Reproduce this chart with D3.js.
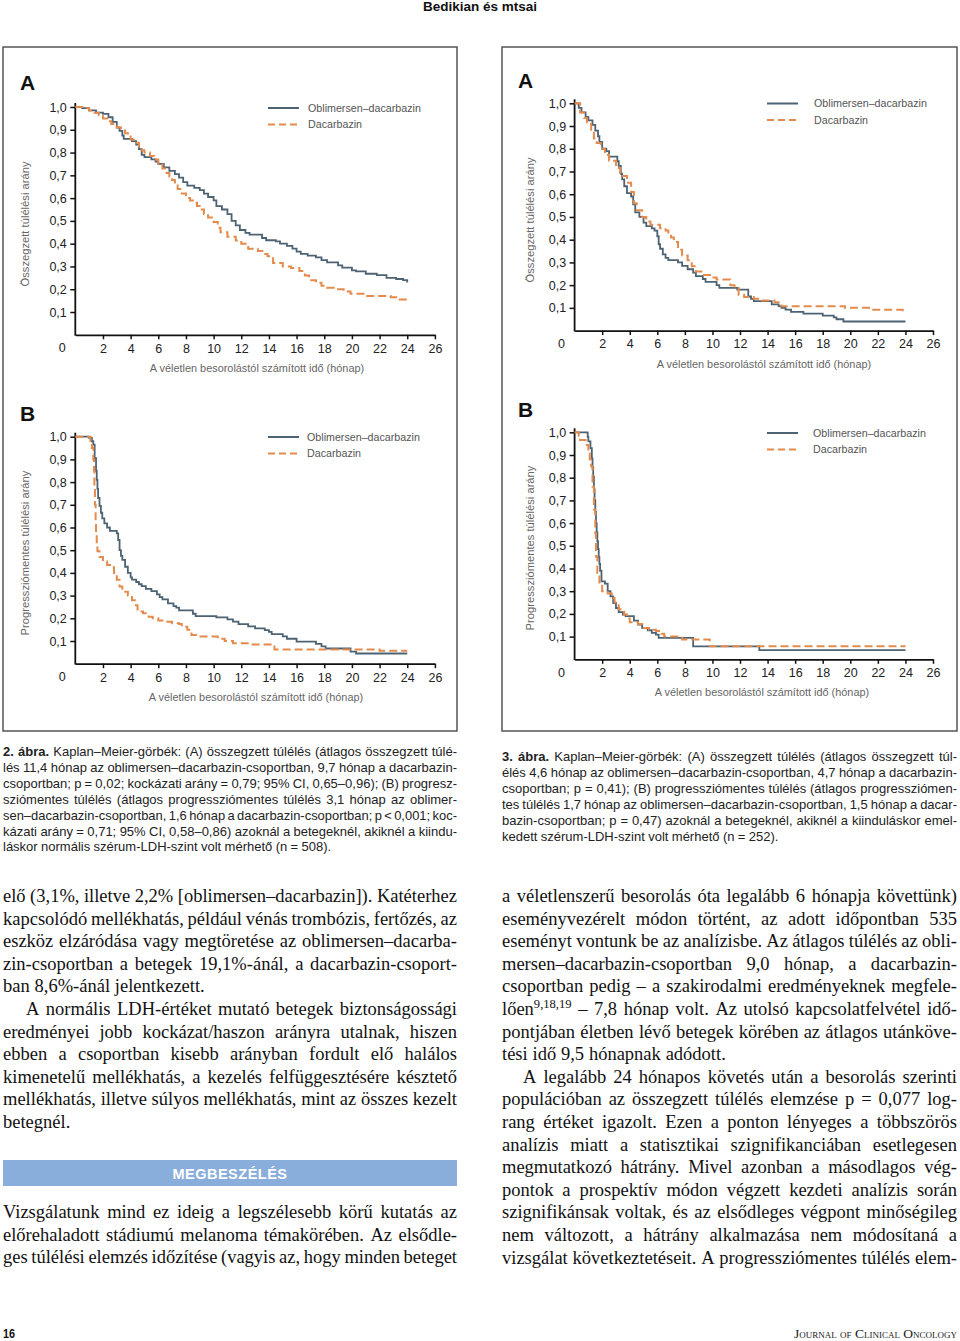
<!DOCTYPE html>
<html>
<head>
<meta charset="utf-8">
<title>Kaplan–Meier-görbék</title>
<script src="https://cdn.jsdelivr.net/npm/d3@7"></script>
<style>
  body { margin: 0; background: #fff; }
  svg { display: block; }
</style>
</head>
<body>
<svg id="page" width="960" height="1341"></svg>
<script>
// ---- data ----
const xTicks = [2, 4, 6, 8, 10, 12, 14, 16, 18, 20, 22, 24, 26];
const yTicks = [0.1, 0.2, 0.3, 0.4, 0.5, 0.6, 0.7, 0.8, 0.9, 1.0];
const seriesNames = ['Oblimersen–dacarbazin', 'Dacarbazin'];
const xTitle = 'A véletlen besorolástól számított idő (hónap)';
const yTitleOS = 'Összegzett túlélési arány';
const yTitlePFS = 'Progressziómentes túlélési arány';

// [month, survival] – figure 2 (normal LDH), panel A overall survival
const fig2A_obl = [[0,1],[0.5,0.995],[1.0,0.985],[1.5,0.975],[2.0,0.97],[2.4,0.955],[2.7,0.935],[3.0,0.91],[3.2,0.895],[3.4,0.875],[3.5,0.86],[4.1,0.85],[4.4,0.835],[4.6,0.815],[4.8,0.79],[5.0,0.78],[5.5,0.77],[5.8,0.76],[6.0,0.75],[6.4,0.735],[6.8,0.72],[7.2,0.705],[7.5,0.69],[7.8,0.67],[8.1,0.655],[8.6,0.645],[9.0,0.635],[9.3,0.62],[9.6,0.605],[10.0,0.59],[10.2,0.565],[10.6,0.55],[11.0,0.53],[11.3,0.50],[11.6,0.48],[11.9,0.46],[12.3,0.447],[12.6,0.44],[13.5,0.425],[13.8,0.415],[14.5,0.41],[14.8,0.40],[15.3,0.39],[15.7,0.378],[16.0,0.365],[16.3,0.355],[16.8,0.348],[17.4,0.34],[17.8,0.328],[18.2,0.318],[19.0,0.305],[19.3,0.295],[20.0,0.283],[20.3,0.278],[21.0,0.268],[21.8,0.262],[22.5,0.25],[23.2,0.245],[23.7,0.24],[24.0,0.23]];
const fig2A_dac = [[0,1],[0.5,0.995],[1.0,0.985],[1.4,0.975],[1.7,0.965],[2.0,0.95],[2.3,0.937],[2.6,0.925],[3.0,0.91],[3.3,0.897],[3.6,0.885],[3.8,0.87],[4.0,0.857],[4.3,0.843],[4.6,0.825],[4.8,0.81],[5.0,0.80],[5.4,0.785],[5.7,0.77],[6.0,0.75],[6.3,0.73],[6.6,0.71],[6.8,0.695],[7.0,0.68],[7.2,0.655],[7.4,0.64],[7.7,0.62],[8.0,0.60],[8.3,0.59],[8.6,0.58],[8.8,0.565],[9.0,0.55],[9.3,0.53],[9.6,0.515],[10.0,0.495],[10.3,0.47],[10.5,0.45],[11.0,0.43],[11.6,0.414],[12.0,0.40],[12.5,0.378],[13.2,0.368],[13.6,0.355],[13.9,0.345],[14.3,0.315],[15.0,0.30],[15.6,0.293],[16.2,0.28],[16.6,0.26],[16.9,0.24],[17.4,0.228],[17.8,0.215],[18.2,0.207],[19.0,0.20],[19.4,0.19],[19.9,0.18],[21.0,0.17],[22.8,0.165],[23.2,0.155],[24.0,0.155]];
// figure 2, panel B progression-free survival
const fig2B_obl = [[0,1],[1.0,0.995],[1.2,0.98],[1.3,0.965],[1.4,0.905],[1.5,0.85],[1.55,0.81],[1.6,0.77],[1.65,0.73],[1.75,0.695],[1.85,0.665],[1.95,0.64],[2.1,0.618],[2.3,0.60],[2.5,0.585],[3.0,0.574],[3.1,0.545],[3.2,0.50],[3.3,0.475],[3.4,0.457],[3.6,0.427],[3.8,0.40],[4.0,0.38],[4.1,0.37],[4.4,0.36],[4.6,0.35],[4.8,0.342],[5.1,0.33],[5.5,0.32],[5.9,0.305],[6.1,0.293],[6.3,0.283],[6.7,0.266],[7.1,0.254],[7.3,0.247],[7.5,0.235],[8.5,0.22],[8.7,0.21],[10.2,0.204],[11.0,0.195],[11.4,0.185],[11.8,0.174],[12.5,0.164],[13.0,0.156],[13.7,0.148],[14.0,0.14],[14.2,0.13],[15.0,0.12],[15.3,0.11],[16.0,0.097],[17.4,0.087],[17.8,0.076],[18.1,0.067],[19.9,0.053],[20.3,0.045],[24.0,0.045]];
const fig2B_dac = [[0,1],[1.1,0.98],[1.2,0.95],[1.3,0.90],[1.35,0.85],[1.38,0.78],[1.42,0.70],[1.47,0.63],[1.5,0.58],[1.55,0.53],[1.6,0.495],[1.75,0.47],[2.0,0.45],[2.3,0.435],[2.6,0.425],[2.8,0.40],[3.0,0.37],[3.2,0.34],[3.4,0.317],[3.8,0.30],[4.1,0.28],[4.3,0.258],[4.5,0.23],[4.9,0.222],[5.3,0.207],[5.6,0.20],[6.0,0.19],[6.4,0.185],[7.0,0.178],[7.5,0.175],[7.7,0.163],[8.1,0.15],[8.4,0.126],[8.8,0.12],[10.3,0.11],[10.8,0.10],[11.4,0.09],[12.6,0.085],[14.4,0.063],[22.0,0.057],[24.0,0.057]];
// figure 3 (elevated LDH), panel A
const fig3A_obl = [[0,1],[0.3,0.98],[0.5,0.96],[0.8,0.94],[1.0,0.925],[1.3,0.905],[1.5,0.88],[1.7,0.855],[1.8,0.83],[2.0,0.80],[2.3,0.79],[2.5,0.765],[3.1,0.745],[3.2,0.725],[3.35,0.69],[3.45,0.665],[3.6,0.635],[3.8,0.605],[4.1,0.59],[4.25,0.555],[4.4,0.52],[4.7,0.50],[5.0,0.475],[5.2,0.46],[5.6,0.45],[5.8,0.44],[6.0,0.415],[6.1,0.38],[6.2,0.36],[6.4,0.335],[6.6,0.32],[6.8,0.31],[7.5,0.30],[7.8,0.285],[8.2,0.27],[8.6,0.255],[8.8,0.24],[9.3,0.227],[9.5,0.214],[10.3,0.20],[10.5,0.188],[11.8,0.18],[12.6,0.15],[12.8,0.14],[13.0,0.13],[14.3,0.115],[14.8,0.108],[15.0,0.10],[15.3,0.092],[15.7,0.082],[16.6,0.075],[18.0,0.066],[18.8,0.058],[19.0,0.05],[19.5,0.04],[24.0,0.04]];
const fig3A_dac = [[0,1],[0.4,0.96],[0.7,0.935],[0.9,0.915],[1.2,0.87],[1.4,0.845],[1.6,0.825],[1.9,0.80],[2.2,0.773],[2.5,0.747],[3.0,0.715],[3.3,0.68],[3.8,0.65],[4.1,0.61],[4.3,0.56],[4.5,0.53],[4.9,0.50],[5.2,0.48],[5.5,0.466],[6.2,0.45],[6.6,0.44],[6.8,0.425],[7.0,0.41],[7.2,0.39],[7.5,0.356],[7.8,0.33],[8.2,0.31],[8.5,0.283],[8.8,0.26],[9.3,0.245],[10.0,0.234],[10.3,0.225],[11.3,0.20],[11.6,0.187],[11.9,0.158],[12.3,0.148],[13.0,0.14],[13.6,0.132],[14.5,0.125],[14.8,0.12],[15.0,0.107],[19.6,0.10],[21.5,0.092],[23.8,0.085],[24.0,0.085]];
// figure 3, panel B
const fig3B_obl = [[0,1],[0.95,0.98],[1.0,0.96],[1.15,0.93],[1.25,0.885],[1.3,0.845],[1.35,0.805],[1.4,0.75],[1.45,0.70],[1.5,0.65],[1.55,0.60],[1.6,0.56],[1.65,0.52],[1.7,0.485],[1.75,0.45],[1.8,0.42],[1.85,0.39],[1.95,0.343],[2.2,0.333],[2.4,0.30],[2.6,0.277],[2.8,0.248],[3.0,0.226],[3.2,0.208],[3.5,0.197],[3.7,0.19],[4.3,0.17],[4.6,0.153],[4.9,0.138],[5.3,0.128],[5.6,0.116],[5.9,0.109],[6.1,0.094],[8.6,0.057],[13.4,0.04],[24.0,0.04]];
const fig3B_dac = [[0,1],[0.3,0.985],[0.4,0.966],[0.8,0.944],[1.0,0.908],[1.1,0.88],[1.2,0.85],[1.3,0.76],[1.4,0.66],[1.5,0.555],[1.55,0.453],[1.65,0.38],[1.8,0.33],[2.0,0.30],[2.4,0.29],[2.7,0.27],[2.9,0.25],[3.2,0.22],[3.6,0.197],[3.8,0.18],[4.0,0.163],[4.6,0.155],[4.9,0.138],[5.4,0.13],[5.9,0.125],[6.3,0.113],[6.5,0.10],[7.6,0.095],[7.8,0.087],[9.8,0.057],[24.0,0.057]];

// ---- page text ( » = indent, « = ragged last line, * = bold word, ^ = superscript ) ----
const header = 'Bedikian és mtsai';
const caption2 = [
  '*2. *ábra. Kaplan–Meier-görbék: (A) összegzett túlélés (átlagos összegzett túlé-',
  'lés 11,4 hónap az oblimersen–dacarbazin-csoportban, 9,7 hónap a dacarbazin-',
  'csoportban; p = 0,02; kockázati arány = 0,79; 95% CI, 0,65–0,96); (B) progresz-',
  'sziómentes túlélés (átlagos progressziómentes túlélés 3,1 hónap az oblimer-',
  'sen–dacarbazin-csoportban, 1,6 hónap a dacarbazin-csoportban; p < 0,001; koc-',
  'kázati arány = 0,71; 95% CI, 0,58–0,86) azoknál a betegeknél, akiknél a kiindu-',
  'láskor normális szérum-LDH-szint volt mérhető (n = 508).«'
];
const caption3 = [
  '*3. *ábra. Kaplan–Meier-görbék: (A) összegzett túlélés (átlagos összegzett túl-',
  'élés 4,6 hónap az oblimersen–dacarbazin-csoportban, 4,7 hónap a dacarbazin-',
  'csoportban; p = 0,41); (B) progressziómentes túlélés (átlagos progressziómen-',
  'tes túlélés 1,7 hónap az oblimersen–dacarbazin-csoportban, 1,5 hónap a dacar-',
  'bazin-csoportban; p = 0,47) azoknál a betegeknél, akiknél a kiinduláskor emel-',
  'kedett szérum-LDH-szint volt mérhető (n = 252).«'
];
const bodyLeftTop = [
  'elő (3,1%, illetve 2,2% [oblimersen–dacarbazin]). Katéterhez',
  'kapcsolódó mellékhatás, például vénás trombózis, fertőzés, az',
  'eszköz elzáródása vagy megtöretése az oblimersen–dacarba-',
  'zin-csoportban a betegek 19,1%-ánál, a dacarbazin-csoport-',
  'ban 8,6%-ánál jelentkezett.«',
  '»A normális LDH-értéket mutató betegek biztonságossági',
  'eredményei jobb kockázat/haszon arányra utalnak, hiszen',
  'ebben a csoportban kisebb arányban fordult elő halálos',
  'kimenetelű mellékhatás, a kezelés felfüggesztésére késztető',
  'mellékhatás, illetve súlyos mellékhatás, mint az összes kezelt',
  'betegnél.«'
];
const sectionTitle = 'MEGBESZÉLÉS';
const bodyLeftBottom = [
  'Vizsgálatunk mind ez ideig a legszélesebb körű kutatás az',
  'előrehaladott stádiumú melanoma témakörében. Az elsődle-',
  'ges túlélési elemzés időzítése (vagyis az, hogy minden beteget'
];
const bodyRight = [
  'a véletlenszerű besorolás óta legalább 6 hónapja követtünk)',
  'eseményvezérelt módon történt, az adott időpontban 535',
  'eseményt vontunk be az analízisbe. Az átlagos túlélés az obli-',
  'mersen–dacarbazin-csoportban 9,0 hónap, a dacarbazin-',
  'csoportban pedig – a szakirodalmi eredményeknek megfele-',
  'lően^9,18,19 – 7,8 hónap volt. Az utolsó kapcsolatfelvétel idő-',
  'pontjában életben lévő betegek körében az átlagos utánköve-',
  'tési idő 9,5 hónapnak adódott.«',
  '»A legalább 24 hónapos követés után a besorolás szerinti',
  'populációban az összegzett túlélés elemzése p = 0,077 log-',
  'rang értéket igazolt. Ezen a ponton lényeges a többszörös',
  'analízis miatt a statisztikai szignifikanciában esetlegesen',
  'megmutatkozó hátrány. Mivel azonban a másodlagos vég-',
  'pontok a prospektív módon végzett kezdeti analízis során',
  'szignifikánsak voltak, és az elsődleges végpont minőségileg',
  'nem változott, a hátrány alkalmazása nem módosítaná a',
  'vizsgálat következtetéseit. A progressziómentes túlélés elem-'
];
const pageNumber = '16';
const journal = 'Journal of Clinical Oncology';

// ---- drawing ----
const svg = d3.select('#page');
const BLUE = '#4d6373';
const ORANGE = '#e38a4c';
const SANS = '"Liberation Sans", Arial, Helvetica, sans-serif';
const SERIF = '"Liberation Serif", "Times New Roman", serif';
const comma = d3.formatLocale({ decimal: ',', thousands: ' ', grouping: [3], currency: ['', ''] }).format('.1f');

svg.append('text')
  .attr('x', 480).attr('y', 11)
  .attr('text-anchor', 'middle')
  .attr('font-family', SANS).attr('font-weight', 'bold').attr('font-size', 13.5)
  .attr('fill', '#111')
  .text(header);

// figure frames
svg.append('rect').attr('x', 3).attr('y', 47).attr('width', 454).attr('height', 684)
  .attr('fill', 'none').attr('stroke', '#555').attr('stroke-width', 1.5);
svg.append('rect').attr('x', 502).attr('y', 47).attr('width', 455).attr('height', 684)
  .attr('fill', 'none').attr('stroke', '#555').attr('stroke-width', 1.5);

function drawPanel(p) {
  const g = svg.append('g');
  const x = d3.scaleLinear().domain([0, 26]).range([p.x0, p.x26]);
  const y = d3.scaleLinear().domain([0, 1]).range([p.y0, p.y1]);

  // panel letter
  g.append('text')
    .attr('x', p.labelX).attr('y', p.labelY)
    .attr('font-family', SANS).attr('font-weight', 'bold').attr('font-size', 21)
    .attr('fill', '#111')
    .text(p.label);

  // x axis
  const gx = g.append('g')
    .attr('transform', `translate(0,${p.y0})`)
    .call(d3.axisBottom(x).tickValues(xTicks).tickSize(4.5).tickSizeOuter(0).tickPadding(4.5).tickFormat(d3.format('d')));
  gx.select('.domain').attr('stroke', '#111').attr('stroke-width', 1.8);
  gx.selectAll('.tick line').attr('stroke', '#111').attr('stroke-width', 1.5);
  gx.selectAll('.tick text').attr('font-family', SANS).attr('font-size', 12.5).attr('fill', '#222');
  g.append('text')
    .attr('x', p.x0 - 13).attr('y', p.y0 + 17.5)
    .attr('text-anchor', 'middle')
    .attr('font-family', SANS).attr('font-size', 12.5).attr('fill', '#222')
    .text('0');

  // y axis
  const gy = g.append('g')
    .attr('transform', `translate(${p.x0},0)`)
    .call(d3.axisLeft(y).tickValues(yTicks).tickSize(5).tickSizeOuter(0).tickPadding(3.5).tickFormat(comma));
  gy.select('.domain').remove();
  gy.selectAll('.tick line').attr('stroke', '#111').attr('stroke-width', 1.5);
  gy.selectAll('.tick text').attr('font-family', SANS).attr('font-size', 12.5).attr('fill', '#222');
  g.append('line')
    .attr('x1', p.x0).attr('x2', p.x0)
    .attr('y1', p.y0 + 0.9).attr('y2', y(1) - 4)
    .attr('stroke', '#111').attr('stroke-width', 1.8);

  // axis titles
  g.append('text')
    .attr('x', p.titleX).attr('y', p.y0 + 37)
    .attr('text-anchor', 'middle')
    .attr('font-family', SANS).attr('font-size', 10.9).attr('fill', '#666')
    .text(xTitle);
  g.append('text')
    .attr('transform', `translate(${p.yTitleX},${p.yTitleY}) rotate(-90)`)
    .attr('dy', '0.35em')
    .attr('text-anchor', 'middle')
    .attr('font-family', SANS).attr('font-size', 11.2).attr('fill', '#666')
    .text(p.yTitle);

  // survival curves
  const line = d3.line()
    .x(d => x(d[0]))
    .y(d => y(d[1]))
    .curve(d3.curveStepAfter);
  g.append('path')
    .datum(p.obl)
    .attr('d', line)
    .attr('fill', 'none').attr('stroke', BLUE).attr('stroke-width', 1.8);
  g.append('path')
    .datum(p.dac)
    .attr('d', line)
    .attr('fill', 'none').attr('stroke', ORANGE).attr('stroke-width', 2)
    .attr('stroke-dasharray', '8,4');

  // legend
  const lg = g.append('g');
  [BLUE, ORANGE].forEach((c, i) => {
    const ly = p.legendY + i * 16.5;
    lg.append('line')
      .attr('x1', p.legendX).attr('x2', p.legendX + 31)
      .attr('y1', ly).attr('y2', ly)
      .attr('stroke', c).attr('stroke-width', 2)
      .attr('stroke-dasharray', i ? '7,4' : null);
    lg.append('text')
      .attr('x', p.legendTextX).attr('y', ly)
      .attr('dy', '0.35em')
      .attr('font-family', SANS).attr('font-size', 10.7).attr('fill', '#555')
      .text(seriesNames[i]);
  });
}

drawPanel({ label: 'A', labelX: 20, labelY: 90, x0: 75.3, x26: 434.9, y0: 334.8, y1: 107,
  titleX: 257, yTitle: yTitleOS, yTitleX: 25, yTitleY: 224,
  legendX: 268, legendTextX: 308, legendY: 108, obl: fig2A_obl, dac: fig2A_dac });
drawPanel({ label: 'B', labelX: 20, labelY: 420.5, x0: 75.3, x26: 434.9, y0: 663.7, y1: 436.7,
  titleX: 256, yTitle: yTitlePFS, yTitleX: 25, yTitleY: 553,
  legendX: 268, legendTextX: 307, legendY: 437, obl: fig2B_obl, dac: fig2B_dac });
drawPanel({ label: 'A', labelX: 518, labelY: 88, x0: 574.6, x26: 933, y0: 330.6, y1: 103.3,
  titleX: 764, yTitle: yTitleOS, yTitleX: 530, yTitleY: 220,
  legendX: 767, legendTextX: 814, legendY: 103.5, obl: fig3A_obl, dac: fig3A_dac });
drawPanel({ label: 'B', labelX: 518, labelY: 416.5, x0: 574.6, x26: 933, y0: 659.3, y1: 432.3,
  titleX: 762, yTitle: yTitlePFS, yTitleX: 530, yTitleY: 548,
  legendX: 767, legendTextX: 813, legendY: 433, obl: fig3B_obl, dac: fig3B_dac });

// justified text blocks, word by word
function textBlock(lines, o) {
  const g = svg.append('g')
    .attr('font-family', o.family).attr('font-size', o.size).attr('fill', o.fill);
  const minGap = o.size * 0.18;
  lines.forEach((raw, li) => {
    let s = raw;
    const indent = s.startsWith('»');
    const ragged = s.endsWith('«');
    s = s.replace('»', '').replace('«', '');
    const y = o.y + li * o.lh;
    const x0 = o.x + (indent ? o.indent : 0);
    const width = o.width - (indent ? o.indent : 0);
    const lineG = g.append('g');
    const words = s.split(' ').map(w => {
      const t = lineG.append('text').attr('y', 0);
      let word = w;
      if (word.startsWith('*')) { word = word.slice(1); t.attr('font-weight', 'bold'); }
      if (word.includes('^')) {
        const [base, sup] = word.split('^');
        t.append('tspan').text(base);
        t.append('tspan').attr('dy', -o.size * 0.38).attr('font-size', o.size * 0.68).text(sup);
      } else {
        t.text(word);
      }
      return { node: t, w: t.node().getComputedTextLength() };
    });
    const total = d3.sum(words, d => d.w);
    let gap = (ragged || words.length < 2) ? o.size * 0.26 : (width - total) / (words.length - 1);
    let sx = 1;
    if (!ragged && gap < minGap) {
      // squeeze glyphs a little instead of letting words collide
      gap = minGap;
      sx = width / (total + gap * (words.length - 1));
    }
    let cx = 0;
    words.forEach(d => { d.node.attr('x', cx); cx += d.w + gap; });
    lineG.attr('transform', `translate(${x0},${y}) scale(${sx},1)`);
  });
}

textBlock(caption2, { x: 3, y: 756, width: 454, lh: 15.9, size: 13, family: SANS, fill: '#222' });
textBlock(caption3, { x: 502, y: 761, width: 455, lh: 15.9, size: 13, family: SANS, fill: '#222' });

textBlock(bodyLeftTop, { x: 3, y: 902, width: 454, lh: 22.6, size: 18.5, family: SERIF, fill: '#111', indent: 23 });

svg.append('rect').attr('x', 3).attr('y', 1160).attr('width', 454).attr('height', 26).attr('fill', '#8aaedb');
svg.append('text')
  .attr('x', 230).attr('y', 1179)
  .attr('text-anchor', 'middle')
  .attr('font-family', SANS).attr('font-weight', 'bold').attr('font-size', 14.5)
  .attr('letter-spacing', 0.5).attr('fill', '#fff')
  .text(sectionTitle);

textBlock(bodyLeftBottom, { x: 3, y: 1218, width: 454, lh: 22.6, size: 18.5, family: SERIF, fill: '#111', indent: 23 });
textBlock(bodyRight, { x: 502, y: 902, width: 455, lh: 22.6, size: 18.5, family: SERIF, fill: '#111', indent: 21 });

// footer
svg.append('text')
  .attr('x', 3).attr('y', 1338)
  .attr('font-family', SANS).attr('font-weight', 'bold').attr('font-size', 13)
  .attr('textLength', 12).attr('lengthAdjust', 'spacingAndGlyphs')
  .attr('fill', '#111')
  .text(pageNumber);
svg.append('text')
  .attr('x', 957).attr('y', 1338)
  .attr('text-anchor', 'end')
  .attr('font-family', SERIF).attr('font-size', 13.5)
  .style('font-variant', 'small-caps')
  .attr('fill', '#222')
  .text(journal);
</script>
</body>
</html>
